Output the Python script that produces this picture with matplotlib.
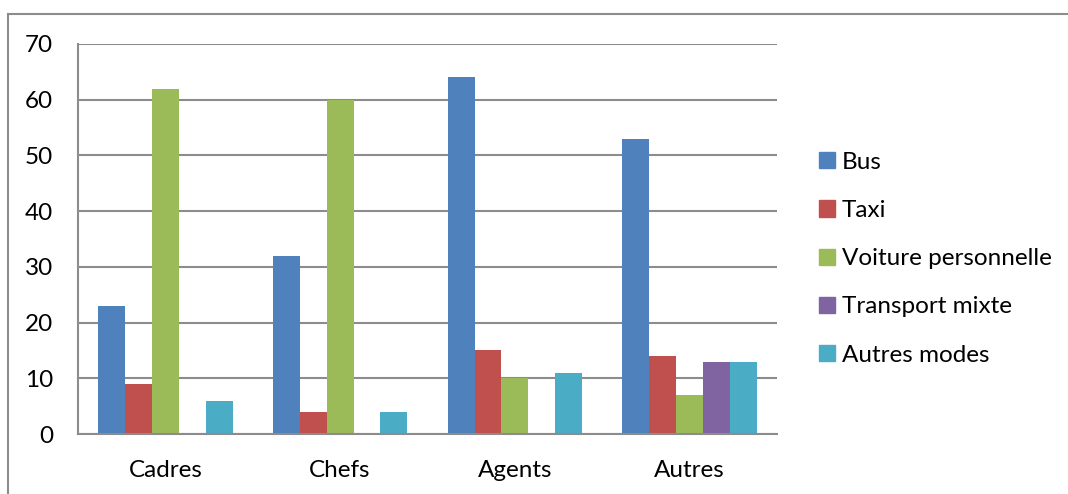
import matplotlib
matplotlib.use("Agg")
import matplotlib.pyplot as plt
import numpy as np
from matplotlib.lines import Line2D

categories = ["Cadres", "Chefs", "Agents", "Autres"]
series_names = ["Bus", "Taxi", "Voiture personnelle", "Transport mixte", "Autres modes"]
bus = [23, 32, 64, 53]
taxi = [9, 4, 15, 14]
voiture = [62, 60, 10, 7]
mixte = [0, 0, 0, 13]
autres_modes = [6, 4, 11, 13]
yticks = [0, 10, 20, 30, 40, 50, 60, 70]

series = [bus, taxi, voiture, mixte, autres_modes]
colors = ["#4F81BD", "#C0504D", "#9BBB59", "#8064A2", "#4BACC6"]

plt.rcParams['font.family'] = ['Lato', 'DejaVu Sans']

fig = plt.figure(figsize=(10.68, 4.94), dpi=100)
ax = fig.add_axes([78/1068, 60/494, (777-78)/1068, 390/494])

n = len(series)
gap = 1.5
w = 1.0 / (n + gap)
x = np.arange(len(categories))
for i, (vals, c) in enumerate(zip(series, colors)):
    ax.bar(x + (i - (n - 1) / 2) * w, vals, width=w, color=c, label=series_names[i], zorder=3)

ax.set_xlim(-0.5, len(categories) - 0.5)
ax.set_ylim(0, 70)
ax.set_yticks(yticks)
ax.set_xticks(x)
ax.set_xticklabels(categories)
ax.yaxis.grid(True, color="#8c8c8c", linewidth=1.5, zorder=0)
ax.set_axisbelow(True)
for s in ["top", "right"]:
    ax.spines[s].set_visible(False)
for s in ["left", "bottom"]:
    ax.spines[s].set_color("#8c8c8c")
    ax.spines[s].set_linewidth(1.5)
ax.spines["bottom"].set_zorder(4)
ax.tick_params(axis="both", length=0, labelsize=17.5, colors="black")
ax.tick_params(axis="x", pad=19)
ax.tick_params(axis="y", pad=18)

fig.legend(handles=[plt.Rectangle((0, 0), 1, 1, color=c) for c in colors],
           labels=series_names, loc="upper left",
           bbox_to_anchor=(809/1068, 1 - 142/494), frameon=False,
           fontsize=17.5, handlelength=0.65, handleheight=0.65,
           handletextpad=0.3, labelspacing=1.12, borderaxespad=0)

# outer chart border
fig.add_artist(Line2D([8/1068, 1.0], [1 - 14/494, 1 - 14/494], transform=fig.transFigure,
                      color="#8c8c8c", linewidth=1.5))
fig.add_artist(Line2D([8/1068, 8/1068], [0, 1 - 14/494], transform=fig.transFigure,
                      color="#8c8c8c", linewidth=1.5))

fig.savefig("out.png", dpi=100, facecolor="white")
